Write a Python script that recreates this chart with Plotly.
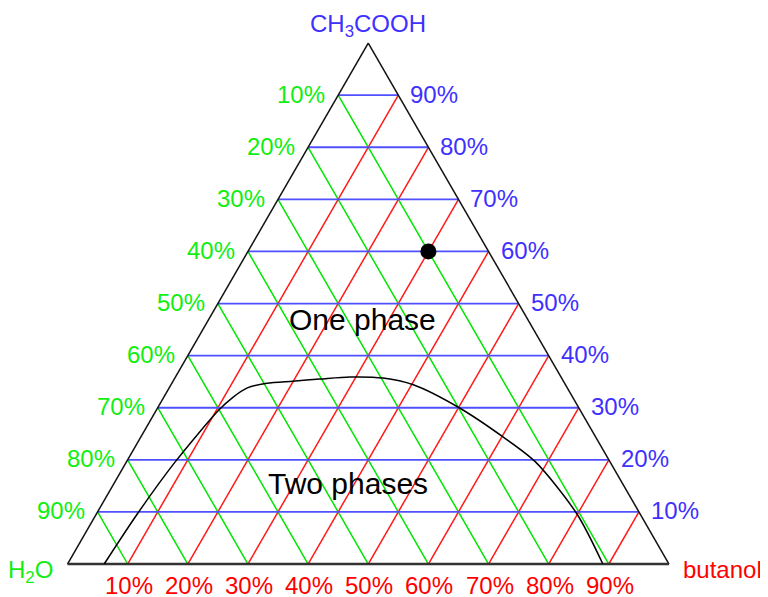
import numpy as np
import plotly.graph_objects as go

# ---------------- data ----------------
ticks = [10, 20, 30, 40, 50, 60, 70, 80, 90]          # percent grid values
tick_labels = [f"{t}%" for t in ticks]

# binodal curve (percent butanol, percent CH3COOH)
curve_butanol = [6.1, 6.8, 8.1, 10.4, 11.5, 13.0, 15.8, 19.9, 24.2, 29.0,
                 34.6, 40.3, 50.3, 60.2, 68.0, 79.9, 89.0]
curve_acid = [0.0, 9.6, 19.6, 29.6, 32.0, 33.8, 34.7, 35.1, 35.5, 35.9,
              35.7, 34.4, 29.9, 24.4, 19.6, 9.6, 0.0]

# marked composition (percent)
point_acid = [60]
point_butanol = [30]
point_water = [10]

corner_labels = {"water": "H<sub>2</sub>O", "butanol": "butanol",
                 "acid": "CH<sub>3</sub>COOH"}
region_labels = {"One phase": (47.0, 25.6), "Two phases": (15.4, 39.0)}  # (acid, butanol)

# ---------------- styling ----------------
BLUE_LINE = "#5050ff"
GREEN_LINE = "#00e600"
RED_LINE = "#ff1a1a"
BLUE_TXT = "#4030ff"
GREEN_TXT = "#11ee11"
RED_TXT = "#ff0000"
FONT = "Arial, Liberation Sans, sans-serif"
SQ = np.sqrt(3) / 2


def to_xy(acid, butanol):
    """ternary percentages -> cartesian (unit triangle)"""
    a = np.asarray(acid, dtype=float) / 100.0
    c = np.asarray(butanol, dtype=float) / 100.0
    return c + a / 2, a * SQ


def seg_trace(segments, color, width):
    xs, ys = [], []
    for (a0, c0), (a1, c1) in segments:
        x, y = to_xy([a0, a1], [c0, c1])
        xs += list(x) + [None]
        ys += list(y) + [None]
    return go.Scatter(x=xs, y=ys, mode="lines", hoverinfo="skip",
                      line=dict(color=color, width=width), showlegend=False)


fig = go.Figure()

# green: constant H2O (from left edge to bottom edge)
green = [((100 - t, 0), (0, 100 - t)) for t in ticks]
# red: constant butanol (from bottom edge to right edge)
red = [((0, t), (100 - t, t)) for t in ticks]
# blue: constant CH3COOH (left edge to right edge)
blue = [((t, 0), (t, 100 - t)) for t in ticks]

fig.add_trace(seg_trace(green, GREEN_LINE, 1.5))
fig.add_trace(seg_trace(red, RED_LINE, 1.5))
fig.add_trace(seg_trace(blue, BLUE_LINE, 1.8))

# triangle outline
fig.add_trace(seg_trace([((0, 0), (100, 0)), ((100, 0), (0, 100))], "#111111", 1.5))
fig.add_trace(seg_trace([((0, 0), (0, 100))], "#333333", 2.4))

# binodal curve
cx, cy = to_xy(curve_acid, curve_butanol)
fig.add_trace(go.Scatter(x=cx, y=cy, mode="lines", line=dict(color="black", width=1.5,
                                                               shape="spline", smoothing=0.8),
                         hoverinfo="skip", showlegend=False))

# marked point
px, py = to_xy(point_acid, point_butanol)
fig.add_trace(go.Scatter(x=px, y=py, mode="markers",
                         marker=dict(color="black", size=16),
                         customdata=np.array(point_water),
                         showlegend=False))

ann = []
# blue labels on right edge (CH3COOH)
for t, lab in zip(ticks, tick_labels):
    x, y = to_xy(t, 100 - t)
    ann.append(dict(x=float(x), y=float(y), text=lab, showarrow=False, xanchor="left",
                    yanchor="middle", xshift=10, yshift=1,
                    font=dict(color=BLUE_TXT, size=24, family=FONT)))
# green labels on left edge (H2O)
for t, lab in zip(ticks, tick_labels):
    x, y = to_xy(100 - t, 0)
    ann.append(dict(x=float(x), y=float(y), text=lab, showarrow=False, xanchor="right",
                    yanchor="middle", xshift=-11, yshift=1,
                    font=dict(color=GREEN_TXT, size=24, family=FONT)))
# red labels on bottom (butanol)
for t, lab in zip(ticks, tick_labels):
    x, y = to_xy(0, t)
    ann.append(dict(x=float(x), y=float(y), text=lab, showarrow=False, xanchor="center",
                    yanchor="middle", xshift=1, yshift=-21,
                    font=dict(color=RED_TXT, size=24, family=FONT)))

# corner labels
x, y = to_xy(100, 0)
ann.append(dict(x=float(x), y=float(y), text=corner_labels["acid"], showarrow=False,
                xanchor="center", yanchor="middle", yshift=18,
                font=dict(color=BLUE_TXT, size=24, family=FONT)))
x, y = to_xy(0, 0)
ann.append(dict(x=float(x), y=float(y), text=corner_labels["water"], showarrow=False,
                xanchor="right", yanchor="middle", xshift=-13, yshift=-7,
                font=dict(color=GREEN_TXT, size=24, family=FONT)))
x, y = to_xy(0, 100)
ann.append(dict(x=float(x), y=float(y), text=corner_labels["butanol"], showarrow=False,
                xanchor="left", yanchor="middle", xshift=12, yshift=-5,
                font=dict(color=RED_TXT, size=24, family=FONT)))

# region labels
for text, (a, c) in region_labels.items():
    x, y = to_xy(a, c)
    ann.append(dict(x=float(x), y=float(y), text=text, showarrow=False,
                    xanchor="center", yanchor="middle",
                    font=dict(color="black", size=30, family=FONT)))

# page has an 8px body margin -> figure is 760x589, placed at (8, 8)
S = 601.5            # px per unit
W, H = 760, 589
X0, Y0 = 59.5, 556   # pixel of H2O corner inside the figure
fig.update_layout(
    width=W, height=H,
    margin=dict(l=0, r=0, t=0, b=0),
    paper_bgcolor="white", plot_bgcolor="white",
    xaxis=dict(range=[-X0 / S, (W - X0) / S], visible=False, fixedrange=True),
    yaxis=dict(range=[-(H - Y0) / S, Y0 / S], visible=False, fixedrange=True),
    annotations=ann,
    showlegend=False,
)

fig.write_html("out.html")
